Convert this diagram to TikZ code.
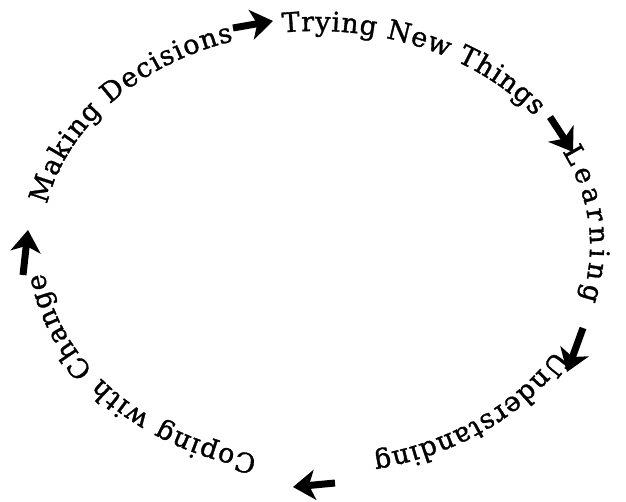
\documentclass[tikz,border=0pt]{standalone}
\usepackage{fontspec}
\newfontfamily\ringfont[FakeBold=1.2]{DejaVu Serif}
\usetikzlibrary{decorations.text,arrows.meta}
\newcommand\rf{\ringfont\fontsize{27}{27}\selectfont}
\begin{document}
\begin{tikzpicture}[x=1pt,y=1pt,
  ringtext/.style={decorate,decoration={text along path,text align=fit to path,text={#1}}},
  fat/.style={line width=7pt,-{Stealth[length=22pt,width=30pt,inset=6pt]}}]
\useasboundingbox (0,0) rectangle (626,501);
\coordinate (c) at (316,255.5);
% phrases along a clockwise ellipse
\path[ringtext={|\rf|Making Decisions}] (c) ++(169:274pt and 214.5pt)
  arc[start angle=169,end angle=107.5,x radius=274pt,y radius=214.5pt];
\path[ringtext={|\rf|Trying New Things}] (c) ++(97:274pt and 214.5pt)
  arc[start angle=97,end angle=37,x radius=274pt,y radius=214.5pt];
\path[ringtext={|\rf|Learning}] (c) ++(26:274pt and 214.5pt)
  arc[start angle=26,end angle=-14.7,x radius=274pt,y radius=214.5pt];
\path[ringtext={|\rf|Understanding}] (c) ++(-29:274pt and 214.5pt)
  arc[start angle=-29,end angle=-78,x radius=274pt,y radius=214.5pt];
\path[ringtext={|\rf|Coping with Change}] (c) ++(-102.4:274pt and 214.5pt)
  arc[start angle=-102.4,end angle=-172.6,x radius=274pt,y radius=214.5pt];
% arrows
\coordinate (a1) at (233,473); \coordinate (b1) at (273,480);
\coordinate (a2) at (550,384); \coordinate (b2) at (573,349);
\coordinate (a3) at (583,173); \coordinate (b3) at (567,129);
\coordinate (a4) at (335,18);  \coordinate (b4) at (293,14);
\coordinate (a5) at (23,226);  \coordinate (b5) at (28,271);
\draw[fat] (a1) -- (b1);
\draw[fat] (a2) -- (b2);
\draw[fat] (a3) -- (b3);
\draw[fat] (a4) -- (b4);
\draw[fat] (a5) -- (b5);
\end{tikzpicture}
\end{document}
